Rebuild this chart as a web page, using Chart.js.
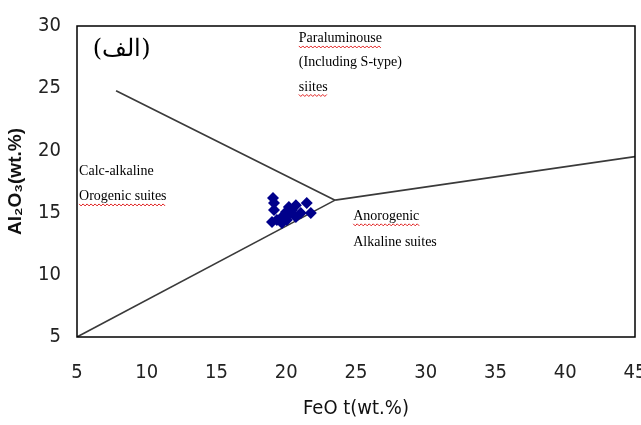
<!DOCTYPE html>
<html>
<head>
<meta charset="utf-8">
<script src="https://cdn.jsdelivr.net/npm/chart.js@4/dist/chart.umd.min.js"></script>
<style>
  html, body { margin: 0; padding: 0; background: #fff; }
  #wrap { width: 641px; height: 425px; }
</style>
</head>
<body>
<div id="wrap"><canvas id="feoChart" width="641" height="425"></canvas></div>
<script>
// sample points (FeO t, Al2O3)
const feo = [19.05, 19.12, 18.98, 19.69, 20.19, 20.4, 20.69, 21.04, 21.47, 21.76, 19.69, 19.33, 20.04, 20.69, 20.33, 19.98, 19.12];
const al2o3 = [16.17, 15.2, 14.24, 14.65, 15.45, 15.2, 15.6, 14.97, 15.77, 14.97, 14.16, 14.4, 14.4, 14.65, 14.97, 15.05, 15.77];

// field boundaries
const lowerX = [5, 23.5];
const lowerY = [5, 16];
const upperX = [7.8, 23.5];
const upperY = [24.8, 16];
const rightX = [23.5, 45];
const rightY = [16, 19.5];

const xTicks = [5, 10, 15, 20, 25, 30, 35, 40, 45];
const yTicks = [5, 10, 15, 20, 25, 30];

// field labels: [x, y, text, wavy underline]
const labels = [
  [20.9, 29.0, 'Paraluminouse', true],
  [20.9, 27.1, '(Including S-type)', false],
  [20.9, 25.1, 'siites', true],
  [5.15, 18.3, 'Calc-alkaline', false],
  [5.15, 16.3, 'Orogenic suites', true],
  [24.8, 14.7, 'Anorogenic', true],
  [24.8, 12.6, 'Alkaline suites', false]
];
const panelLabel = [8.2, 28.1, '(الف)'];

const toPts = (xs, ys) => xs.map((x, i) => ({ x: x, y: ys[i] }));

const lineStyle = {
  showLine: true,
  borderColor: '#3a3a3a',
  borderWidth: 1.6,
  pointRadius: 0,
  fill: false
};

// draws the text inside the plot plus the frame
const textPlugin = {
  id: 'fieldText',
  afterDraw(chart) {
    const c = chart.ctx;
    const xs = chart.scales.x, ys = chart.scales.y;
    const a = chart.chartArea;
    c.save();
    c.strokeStyle = '#000';
    c.lineWidth = 1.5;
    c.strokeRect(a.left, a.top, a.right - a.left, a.bottom - a.top);

    c.fillStyle = '#000';
    c.textBaseline = 'middle';
    c.textAlign = 'left';
    c.font = '14px "Liberation Serif", "Times New Roman", serif';
    labels.forEach(l => {
      const px = xs.getPixelForValue(l[0]);
      const py = ys.getPixelForValue(l[1]);
      c.fillText(l[2], px, py);
      if (l[3]) {
        const w = c.measureText(l[2]).width;
        c.strokeStyle = '#e02020';
        c.lineWidth = 1;
        c.beginPath();
        for (let i = 0; i <= w; i += 2) {
          const yy = py + 8 + ((i / 2) % 2 ? 1.5 : -0.5);
          if (i === 0) c.moveTo(px + i, yy); else c.lineTo(px + i, yy);
        }
        c.stroke();
      }
    });

    c.textAlign = 'center';
    c.font = '24px "DejaVu Serif", "Liberation Serif", serif';
    c.fillText(panelLabel[2], xs.getPixelForValue(panelLabel[0]), ys.getPixelForValue(panelLabel[1]));
    c.restore();
  }
};

const narrow = '"DejaVu Sans Condensed", "Liberation Sans Narrow", "Arial Narrow", sans-serif';
const tickFont = { family: narrow, size: 20 };

new Chart(document.getElementById('feoChart').getContext('2d'), {
  type: 'scatter',
  data: {
    datasets: [
      {
        data: toPts(feo, al2o3),
        pointStyle: 'rectRot',
        pointRadius: 6,
        pointHoverRadius: 6,
        backgroundColor: '#00008b',
        borderColor: '#00008b',
        borderWidth: 0
      },
      Object.assign({ data: toPts(lowerX, lowerY) }, lineStyle),
      Object.assign({ data: toPts(upperX, upperY) }, lineStyle),
      Object.assign({ data: toPts(rightX, rightY) }, lineStyle)
    ]
  },
  options: {
    responsive: false,
    animation: false,
    plugins: {
      legend: { display: false },
      tooltip: { enabled: false }
    },
    layout: {
      padding: { left: 0, right: 3, top: 26, bottom: 0 }
    },
    scales: {
      x: {
        type: 'linear',
        min: 5,
        max: 45,
        afterBuildTicks: s => { s.ticks = xTicks.map(v => ({ value: v })); },
        afterFit: s => { s.height = 88; s.paddingLeft = 0; s.paddingRight = 0; },
        grid: { display: false, drawTicks: false },
        border: { display: false },
        ticks: { color: '#222', font: tickFont, padding: 24 },
        title: {
          display: true,
          text: 'FeO t(wt.%)',
          color: '#111',
          font: { family: narrow, size: 20 },
          padding: { top: 14 }
        }
      },
      y: {
        type: 'linear',
        min: 5,
        max: 30,
        afterBuildTicks: s => { s.ticks = yTicks.map(v => ({ value: v })); },
        afterFit: s => { s.width = 77; s.paddingTop = 0; s.paddingBottom = 0; },
        grid: { display: false, drawTicks: false },
        border: { display: false },
        ticks: { color: '#222', font: tickFont, padding: 16 },
        title: {
          display: true,
          text: 'Al₂O₃(wt.%)',
          color: '#111',
          font: { family: '"Liberation Sans", Arial, sans-serif', size: 19, weight: 'bold' },
          padding: { bottom: 2 }
        }
      }
    }
  },
  plugins: [textPlugin]
});
</script>
</body>
</html>
